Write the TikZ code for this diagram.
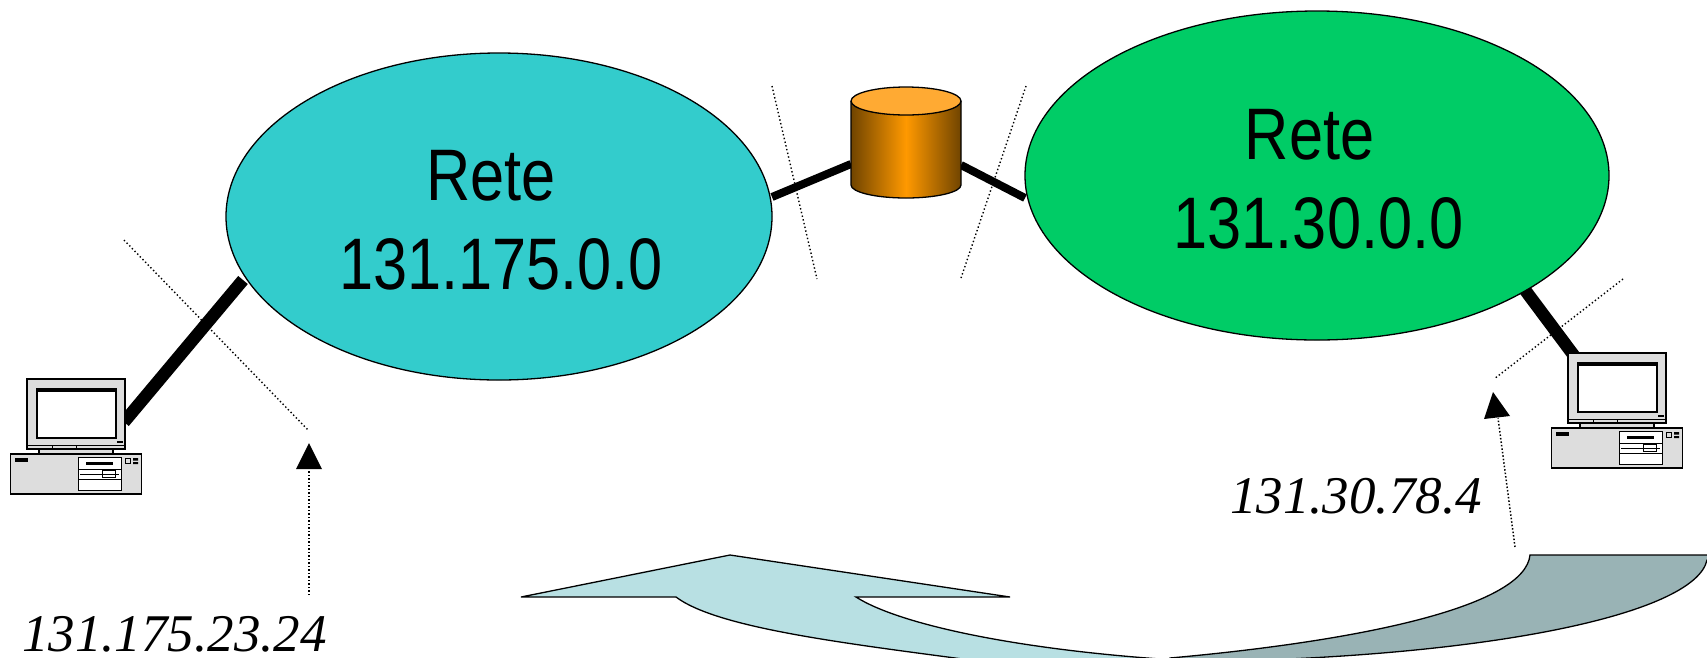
\documentclass[tikz,border=0pt]{standalone}
\usepackage{fontspec}
\usetikzlibrary{shapes.geometric,arrows.meta}
\setmainfont{Liberation Serif}
\newfontfamily\retefont[FakeStretch=0.84]{Liberation Sans}
\definecolor{reteA}{HTML}{33CCCC}
\definecolor{reteB}{HTML}{00CC66}
\definecolor{arrowLight}{HTML}{B8E0E3}
\definecolor{arrowDark}{HTML}{99B3B5}
\definecolor{cylTop}{HTML}{FFAA33}
\definecolor{cylMid}{HTML}{FF9900}
\definecolor{cylEdge}{HTML}{704400}
\definecolor{pcGrey}{HTML}{DDDDDD}
\tikzset{
  net/.style={draw=black,line width=1.3pt,ellipse,inner sep=0pt},
  retelabel/.style={anchor=base,inner sep=0pt,font=\retefont\fontsize{73}{73}\selectfont},
  iplabel/.style={anchor=base west,inner sep=0pt,font=\itshape\fontsize{53}{53}\selectfont},
  linkthin/.style={line width=8pt,black},
  linkthick/.style={line width=12.5pt,black},
  boundary/.style={line width=1.4pt,dash pattern=on 1.4pt off 2.4pt},
  pointer/.style={line width=1.5pt,dash pattern=on 1.5pt off 2pt},
  tiphead/.style={fill=black,draw=none},
  bigarrow/.style={draw=black,line width=1.3pt,line join=miter},
  pcline/.style={draw=black,line width=1.8pt},
  pcfine/.style={draw=black,line width=1pt},
  pc/.pic={
    \filldraw[pcline,fill=pcGrey] (10.5,454) rectangle (141.5,494);
    \filldraw[pcline,fill=pcGrey] (39,449) rectangle (113,454);
    \filldraw[pcline,fill=pcGrey] (27,379) rectangle (125,449);
    \draw[pcfine] (27,445) -- (125,445) (52,445) -- (52,449) (76,445) -- (76,449);
    \filldraw[pcline,fill=white] (37,390) rectangle (116,438);
    \fill[black] (36,388) rectangle (117,392);
    \fill[black] (117,441) rectangle (123,443);
    \fill[black] (15,458) rectangle (28,462);
    \filldraw[pcfine,fill=white] (78,457.5) rectangle (121,490);
    \fill[black] (86,462) rectangle (113,465);
    \draw[pcfine] (78,469) -- (121,469) (78,479) -- (121,479) (80,474) -- (119,474);
    \draw[pcfine] (102,470.5) rectangle (115,477.5);
    \draw[pcfine] (125.5,458) rectangle (130.5,463);
    \fill[black] (133,458) rectangle (138,460.5) (133,462) rectangle (138,464);
  }
}
\begin{document}
\begin{tikzpicture}[x=1pt,y=-1pt]
\useasboundingbox (0,0) rectangle (1707,657);
\clip (0,0) rectangle (1707,657);
% curved arrow
\filldraw[bigarrow,fill=arrowDark] (1530,555) -- (1720,555) -- (1707,560)
  .. controls (1695,615) and (1480,660) .. (1170,662)
  -- (1170,658)
  .. controls (1370,640) and (1525,605) .. (1530,555) -- cycle;
\filldraw[bigarrow,fill=arrowLight] (730,555) -- (1010,597) -- (856,597)
  .. controls (900,625) and (1020,650) .. (1175,660)
  -- (1000,664)
  .. controls (860,645) and (720,630) .. (676,597)
  -- (521,597) -- cycle;
% boundaries
\coordinate (b1a) at (772,86); \coordinate (b1b) at (817,279);
\coordinate (b2a) at (1026,86); \coordinate (b2b) at (961,278);
\coordinate (b3a) at (124,240); \coordinate (b3b) at (309,431);
\coordinate (b4a) at (1623,279); \coordinate (b4b) at (1494,379);
\draw[boundary] (b1a) -- (b1b);
\draw[boundary] (b2a) -- (b2b);
\draw[boundary] (b3a) -- (b3b);
\draw[boundary] (b4a) -- (b4b);
% thick links (under the nodes)
\coordinate (la) at (772,197); \coordinate (lb) at (851,164);
\coordinate (ra) at (961,165); \coordinate (rb) at (1025,198);
\coordinate (pa) at (243,280); \coordinate (pb) at (124,422);
\coordinate (qa) at (1525,290); \coordinate (qb) at (1575,357);
\draw[linkthin] (la) -- (lb);
\draw[linkthin] (ra) -- (rb);
\draw[linkthick] (pa) -- (pb);
\draw[linkthick] (qa) -- (qb);
% networks
\node[net,fill=reteA,minimum width=546pt,minimum height=327pt] (netA) at (499,216.5) {};
\node[net,fill=reteB,minimum width=584pt,minimum height=329pt] (netB) at (1317,175.5) {};
\node[retelabel] (ta1) at (491,200) {Rete};
\node[retelabel] (ta2) at (501,289) {131.175.0.0};
\node[retelabel] (tb1) at (1309.5,159) {Rete};
\node[retelabel] (tb2) at (1318.5,248) {131.30.0.0};
% router cylinder
\path[left color=cylEdge,right color=cylEdge,middle color=cylMid]
  (851,101) -- (851,185) arc[start angle=180,end angle=0,x radius=55,y radius=13] -- (961,101) -- cycle;
\draw[line width=1.3pt] (851,101) -- (851,185) arc[start angle=180,end angle=0,x radius=55,y radius=13] -- (961,101);
\node[ellipse,draw=black,line width=1.3pt,fill=cylTop,minimum width=110pt,minimum height=28pt,inner sep=0pt] (cyl) at (906,101) {};
% computers
\pic (pcA) at (0,0) {pc};
\pic (pcB) at (1541,-26) {pc};
% pointers
\coordinate (p1a) at (309,595); \coordinate (p1b) at (309,469);
\coordinate (p2a) at (1515,547); \coordinate (p2b) at (1498,418);
\draw[pointer] (p1a) -- (p1b);
\draw[pointer] (p2a) -- (p2b);
\fill[tiphead] (309,443) -- (322,469) -- (296,469) -- cycle;
\fill[tiphead] (1493,392) -- (1510,416) -- (1484,419) -- cycle;
% addresses
\node[iplabel] (ipA) at (22,651) {131.175.23.24};
\node[iplabel] (ipB) at (1230,513) {131.30.78.4};
\end{tikzpicture}
\end{document}
